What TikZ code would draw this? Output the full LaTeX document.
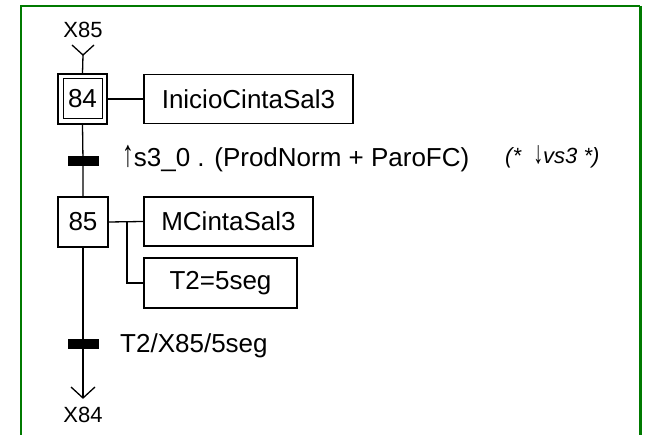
\documentclass[tikz,border=0pt]{standalone}
\usepackage{fontspec}
\usepackage{graphicx}
\setmainfont{Liberation Sans}
\definecolor{framegreen}{RGB}{0,122,0}
\newcommand{\tallarrow}[1]{\scalebox{0.9}[1.45]{#1}}
\begin{document}
\begin{tikzpicture}[x=1pt,y=-1pt,
  box/.style={draw,line width=1.3pt,inner sep=0pt,font=\fontsize{26}{30}\selectfont},
  bar/.style={fill=black,draw=none,minimum width=31pt,minimum height=10pt,inner sep=0pt},
  lbl/.style={inner sep=0pt,font=\fontsize{22}{26}\selectfont},
  cond/.style={inner sep=0pt,anchor=base west,font=\fontsize{26}{30}\selectfont},
  com/.style={inner sep=0pt,anchor=base west,font=\fontsize{22}{26}\selectfont\itshape},
  link/.style={line width=1.3pt}]
\useasboundingbox (0,0) rectangle (648,435);
\draw[framegreen,line width=1.6pt] (21,435) -- (21,6) -- (640,6);
\draw[framegreen,line width=3pt] (640,6) -- (640,435);

% step 84 (initial, double box)
\node[box,minimum width=49pt,minimum height=50pt] (s84) at (82.5,99) {};
\node[box,line width=1pt,minimum width=39pt,minimum height=40pt] (s84i) at (s84.center) {84};
\node[box,minimum width=209pt,minimum height=49pt] (a84) at (248.5,99) {InicioCintaSal3};

% step 85
\node[box,minimum width=50pt,minimum height=50pt] (s85) at (83,222) {85};
\node[box,minimum width=169pt,minimum height=49pt] (a85a) at (228.5,221.5) {MCintaSal3};
\node[box,minimum width=153pt,minimum height=50pt] (a85b) at (220.5,283) {T2=5seg};

% transitions
\node[bar] (t1) at (83,161) {};
\node[bar] (t2) at (83,344) {};
\node[cond] (c1) at (122,167) {\tallarrow{↑}s3\_0 . (ProdNorm + ParoFC)};
\node[com] (c1b) at (505,164) {(*\ \ \tallarrow{↓}vs3 *)};
\node[cond] (c2) at (120,353) {T2/X85/5seg};

% labels
\node[lbl,anchor=base] (x85) at (83,38) {X85};
\node[lbl,anchor=base] (x84) at (83,423) {X84};

% top entry
\coordinate (ytip) at (83,55);
\coordinate (yl) at (72,45);
\coordinate (yr) at (94,45);
\draw[link] (yl) -- (ytip) -- (yr);
\draw[link] (ytip) -- (s84.north);

% main line
\draw[link] (s84.south) -- (t1.center) -- (s85.north);
\coordinate (atip) at (83,398);
\coordinate (al) at (71,387);
\coordinate (ar) at (95,387);
\draw[link] (s85.south) -- (t2.center) -- (atip);
\draw[link] (al) -- (atip) -- (ar);

% action links
\draw[link] (s84.east) -- (a84.west);
\draw[link] (s85.east) -- (a85a.west);
\coordinate (br) at (127,222);
\draw[link] (br) |- (a85b.west);
\end{tikzpicture}
\end{document}
